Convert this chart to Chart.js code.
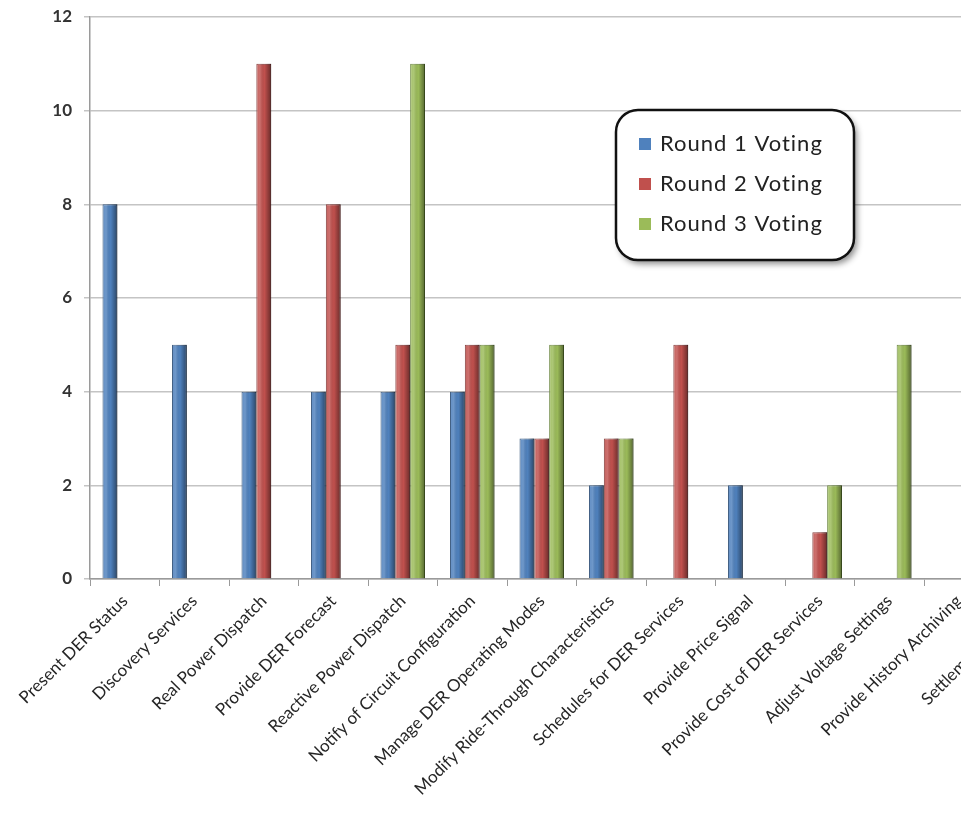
<!DOCTYPE html>
<html>
<head>
<meta charset="utf-8">
<script src="https://cdn.jsdelivr.net/npm/chart.js@4.4.1/dist/chart.umd.min.js"></script>
<style>
  html, body { margin: 0; padding: 0; background: #fff; overflow: hidden; }
  #votingChart { display: block; }
</style>
</head>
<body>
<canvas id="votingChart" width="1066" height="816"></canvas>
<script>
const categories = [
  'Present DER Status',
  'Discovery Services',
  'Real Power Dispatch',
  'Provide DER Forecast',
  'Reactive Power Dispatch',
  'Notify of Circuit Configuration',
  'Manage DER Operating Modes',
  'Modify Ride-Through Characteristics',
  'Schedules for DER Services',
  'Provide Price Signal',
  'Provide Cost of DER Services',
  'Adjust Voltage Settings',
  'Provide History Archiving',
  'Settlement Services'
];

const round1 = [8, 5, 4, 4, 4, 4, 3, 2, null, 2, null, null, null, null];
const round2 = [null, null, 11, 8, 5, 5, 3, 3, 5, null, 1, null, null, null];
const round3 = [null, null, null, null, 11, 5, 5, 3, null, null, 2, 5, null, null];

const seriesNames = ['Round 1 Voting', 'Round 2 Voting', 'Round 3 Voting'];
const yTickValues = [0, 2, 4, 6, 8, 10, 12];

const colors = ['#4F81BD', '#C0504D', '#9BBB59'];
const edgeColors = ['#2b4c74', '#7a2d2b', '#5d7a2e'];

// gives the bars a bit of the rounded excel look
const barShade = {
  id: 'barShade',
  afterDatasetsDraw(chart) {
    const ctx = chart.ctx;
    chart.data.datasets.forEach((ds, i) => {
      const meta = chart.getDatasetMeta(i);
      meta.data.forEach((bar, j) => {
        if (ds.data[j] == null) return;
        const { x, y, base, width } = bar.getProps(['x', 'y', 'base', 'width'], true);
        const left = x - width / 2;
        const g = ctx.createLinearGradient(left, 0, left + width, 0);
        g.addColorStop(0, 'rgba(255,255,255,0.10)');
        g.addColorStop(0.25, 'rgba(255,255,255,0.18)');
        g.addColorStop(0.55, 'rgba(0,0,0,0)');
        g.addColorStop(1, 'rgba(0,0,0,0.45)');
        ctx.save();
        ctx.fillStyle = g;
        ctx.fillRect(left, y, width, base - y);
        ctx.restore();
      });
    });
  }
};

// rounded legend box sitting inside the plot
const boxLegend = {
  id: 'boxLegend',
  afterDraw(chart) {
    const ctx = chart.ctx;
    const bx = 616, by = 110, bw = 238, bh = 150;
    ctx.save();
    ctx.shadowColor = 'rgba(0,0,0,0.45)';
    ctx.shadowBlur = 6;
    ctx.shadowOffsetX = 3;
    ctx.shadowOffsetY = 4;
    ctx.beginPath();
    ctx.roundRect(bx, by, bw, bh, 22);
    ctx.fillStyle = '#fff';
    ctx.fill();
    ctx.shadowColor = 'transparent';
    ctx.lineWidth = 2.5;
    ctx.strokeStyle = '#111';
    ctx.stroke();

    ctx.font = '22px Lato';
    ctx.letterSpacing = '1px';
    ctx.textBaseline = 'middle';
    chart.data.datasets.forEach((ds, i) => {
      const cy = by + 34 + i * 40;
      ctx.fillStyle = ds.backgroundColor;
      ctx.fillRect(bx + 23, cy - 6, 12, 12);
      ctx.fillStyle = '#222';
      ctx.fillText(ds.label, bx + 44, cy);
    });
    ctx.restore();
  }
};

const ctx = document.getElementById('votingChart').getContext('2d');

const chart = new Chart(ctx, {
  type: 'bar',
  data: {
    labels: categories,
    datasets: [round1, round2, round3].map((vals, index) => ({
      label: seriesNames[index],
      data: vals,
      backgroundColor: colors[index],
      borderColor: edgeColors[index],
      borderWidth: 1,
      categoryPercentage: 0.64,
      barPercentage: 1.0,
    })),
  },
  options: {
    responsive: false,
    animation: false,
    layout: {
      padding: { top: 17, right: 3, left: 0, bottom: 0 },
    },
    plugins: {
      legend: { display: false },
      tooltip: { enabled: false },
    },
    scales: {
      x: {
        afterFit: (scale) => { scale.height = 237; },
        grid: {
          display: true,
          offset: true,
          drawOnChartArea: false,
          drawTicks: true,
          tickLength: 7,
          color: '#9a9a9a',
        },
        border: { color: '#9a9a9a', width: 1.5 },
        ticks: {
          autoSkip: false,
          minRotation: 45,
          maxRotation: 45,
          padding: 5,
          color: '#262626',
          font: { family: 'Lato', size: 17 },
        },
      },
      y: {
        min: 0,
        max: 12,
        afterFit: (scale) => {
          scale.width = 90;
          scale.paddingTop = 0;
        },
        afterBuildTicks: (scale) => {
          scale.ticks = yTickValues.map(v => ({ value: v }));
        },
        grid: {
          color: '#c4c4c4',
          lineWidth: 1.5,
          tickLength: 6,
        },
        border: { color: '#9a9a9a', width: 1.5 },
        ticks: {
          padding: 12,
          color: '#333',
          font: { family: 'Lato', size: 17, weight: 'bold' },
        },
      },
    },
  },
  plugins: [barShade, boxLegend],
});
</script>
</body>
</html>
